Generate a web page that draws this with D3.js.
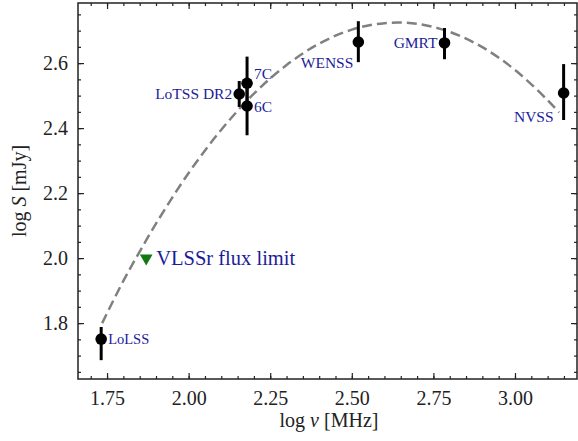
<!DOCTYPE html>
<html>
<head>
<meta charset="utf-8">
<script src="https://cdn.jsdelivr.net/npm/d3@7"></script>
<style>
  body { margin: 0; background: #fff; }
  svg, svg text { font-family: "Liberation Serif", "DejaVu Serif", serif; }
  svg { display: block; }
</style>
</head>
<body>
<svg id="chart" width="578" height="441"></svg>
<script>
// survey measurements: log frequency [MHz], log flux [mJy], error bar ends
const surveys = ['LoLSS', 'LoTSS DR2', '7C', '6C', 'WENSS', 'GMRT', 'NVSS'];
const logNu = [1.732, 2.155, 2.179, 2.179, 2.52, 2.784, 3.149];
const logS = [1.751, 2.505, 2.538, 2.468, 2.665, 2.662, 2.508];
const errLow = [1.686, 2.465, 2.46, 2.378, 2.603, 2.612, 2.425];
const errHigh = [1.788, 2.545, 2.62, 2.555, 2.729, 2.708, 2.597];

// VLSSr upper limit
const limitNu = 1.87;
const limitS = 2.0;

// dashed model curve
const curveNu = [1.735, 1.8, 1.85, 1.9, 2.0, 2.1, 2.2, 2.3, 2.4, 2.5, 2.6, 2.7, 2.8, 2.9, 3.0, 3.1, 3.135];
const curveS = [1.80, 1.93, 2.02, 2.106, 2.262, 2.395, 2.506, 2.594, 2.66, 2.703, 2.723, 2.721, 2.696, 2.649, 2.579, 2.486, 2.448];

// tick labels
const xTicks = [1.75, 2.0, 2.25, 2.5, 2.75, 3.0];
const yTicks = [1.8, 2.0, 2.2, 2.4, 2.6];

const svg = d3.select('#chart');
const x = d3.scaleLinear().domain([1.661, 3.19]).range([78, 577]);
const y = d3.scaleLinear().domain([1.628, 2.785]).range([379, 3]);

const ink = '#222';
const labelBlue = '#1c1c9a';
const serif = '"Liberation Serif", "DejaVu Serif", serif';

// minor ticks every 0.05, inward on all sides
const xMinor = d3.range(1.70, 3.19, 0.05);
const yMinor = d3.range(1.65, 2.785, 0.05);

function drawAxis(axis, transform) {
    const g = svg.append('g').attr('transform', transform).call(axis);
    g.attr('font-family', serif);
    g.select('.domain').remove();
    g.selectAll('line').attr('stroke', ink).attr('stroke-width', 1.2);
    return g;
}

// bottom / top
drawAxis(d3.axisBottom(x).tickValues(xMinor).tickSize(-3).tickFormat(''), 'translate(0,379)');
drawAxis(d3.axisTop(x).tickValues(xMinor).tickSize(-3).tickFormat(''), 'translate(0,3)');
const xb = drawAxis(d3.axisBottom(x).tickValues(xTicks).tickSize(-6).tickPadding(12)
    .tickFormat(d3.format('.2f')), 'translate(0,379)');
xb.selectAll('text').attr('font-size', 20).attr('fill', ink);
drawAxis(d3.axisTop(x).tickValues(xTicks).tickSize(-6).tickFormat(''), 'translate(0,3)');

// left / right
drawAxis(d3.axisLeft(y).tickValues(yMinor).tickSize(-3).tickFormat(''), 'translate(78,0)');
drawAxis(d3.axisRight(y).tickValues(yMinor).tickSize(-3).tickFormat(''), 'translate(577,0)');
const yl = drawAxis(d3.axisLeft(y).tickValues(yTicks).tickSize(-6).tickPadding(10)
    .tickFormat(d3.format('.1f')), 'translate(78,0)');
yl.selectAll('text').attr('font-size', 20).attr('fill', ink);
drawAxis(d3.axisRight(y).tickValues(yTicks).tickSize(-6).tickFormat(''), 'translate(577,0)');

// frame
svg.append('rect')
    .attr('x', 78).attr('y', 3).attr('width', 499).attr('height', 376)
    .attr('fill', 'none').attr('stroke', ink).attr('stroke-width', 1.5);

// axis titles
const xt = svg.append('text')
    .attr('x', 329).attr('y', 427).attr('text-anchor', 'middle')
    .attr('font-size', 20).attr('fill', ink);
xt.append('tspan').text('log ');
xt.append('tspan').attr('font-style', 'italic').text('ν');
xt.append('tspan').text(' [MHz]');

const yt = svg.append('text')
    .attr('transform', 'translate(26,191) rotate(-90)')
    .attr('text-anchor', 'middle').attr('font-size', 20).attr('fill', ink);
yt.append('tspan').text('log ');
yt.append('tspan').attr('font-style', 'italic').text('S');
yt.append('tspan').text(' [mJy]');

// model curve
const line = d3.line()
    .x(function (d, i) { return x(curveNu[i]); })
    .y(function (d) { return y(d); })
    .curve(d3.curveCatmullRom);
svg.append('path')
    .datum(curveS)
    .attr('d', line)
    .attr('fill', 'none')
    .attr('stroke', '#808080')
    .attr('stroke-width', 2.5)
    .attr('stroke-dasharray', '10,5');

// error bars and points
surveys.forEach(function (name, i) {
    svg.append('line')
        .attr('x1', x(logNu[i])).attr('x2', x(logNu[i]))
        .attr('y1', y(errLow[i])).attr('y2', y(errHigh[i]))
        .attr('stroke', '#000').attr('stroke-width', 3);
});
surveys.forEach(function (name, i) {
    svg.append('circle')
        .attr('cx', x(logNu[i])).attr('cy', y(logS[i]))
        .attr('r', 5.8).attr('fill', '#000');
});

// VLSSr limit marker
const tx = x(limitNu), ty = y(limitS);
svg.append('path')
    .attr('d', d3.symbol().type(d3.symbolTriangle).size(70)())
    .attr('transform', `translate(${tx},${ty}) rotate(180)`)
    .attr('fill', '#137813');
svg.append('text')
    .attr('x', tx + 10).attr('y', ty + 7)
    .attr('font-size', 20.5).attr('fill', labelBlue)
    .text('VLSSr flux limit');

// survey labels: [dx, dy, anchor] offsets from the point
const labelOffsets = [
    [7, 5, 'start'],
    [-7, 5, 'end'],
    [7, -4, 'start'],
    [7, 6, 'start'],
    [-5, 26, 'end'],
    [-7, 5, 'end'],
    [-10, 29, 'end']
];
surveys.forEach(function (name, i) {
    const o = labelOffsets[i];
    svg.append('text')
        .attr('x', x(logNu[i]) + o[0])
        .attr('y', y(logS[i]) + o[1])
        .attr('text-anchor', o[2])
        .attr('font-size', i === 0 ? 14.5 : 15.5)
        .attr('fill', labelBlue)
        .text(name);
});
</script>
</body>
</html>
